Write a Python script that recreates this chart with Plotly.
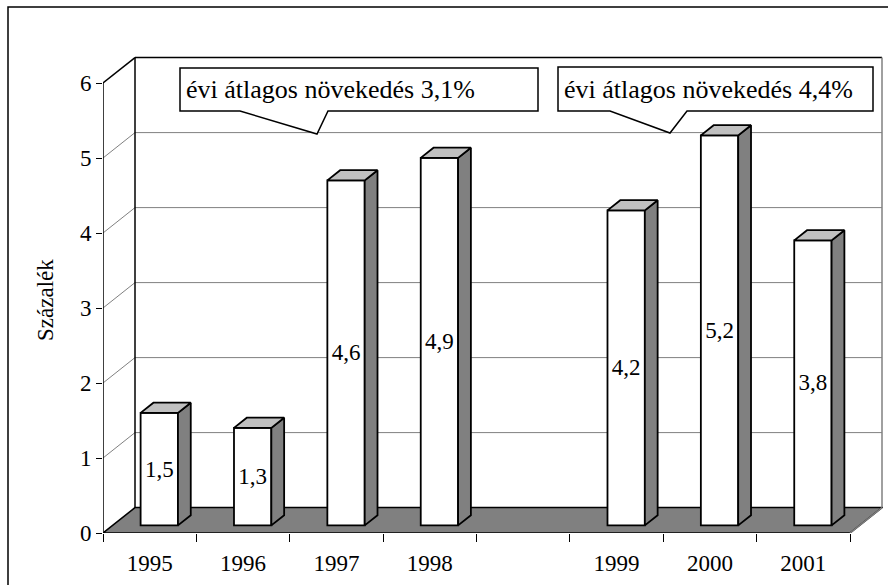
import plotly.graph_objects as go

# ---- data ----
years = ["1995", "1996", "1997", "1998", "", "1999", "2000", "2001"]
values = [1.5, 1.3, 4.6, 4.9, None, 4.2, 5.2, 3.8]
y_ticks = [0, 1, 2, 3, 4, 5, 6]
callout_texts = ["évi átlagos növekedés 3,1%", "évi átlagos növekedés 4,4%"]
y_title = "Százalék"

# ---- geometry / style ----
W, H = 888, 585
ML, MR, MT, MB = 103, 5, 55, 52
PX_PER_CAT = 93.375
PX_PER_UNIT = 75.0
XMIN = -0.5
XMAX = XMIN + (W - ML - MR) / PX_PER_CAT
YMAX = (H - MT - MB) / PX_PER_UNIT
DX = 32 / PX_PER_CAT      # oblique depth, in category units
DY = 25.4 / PX_PER_UNIT   # oblique depth, in value units
F0, F1 = 0.3, 0.7         # bar depth span
BW = 0.40
N = len(years)
XEND = XMIN + N
YTOP = y_ticks[-1]
FONT = "Liberation Serif"
FLOOR = "#808080"
SIDE = "#808080"
TOPC = "#c0c0c0"
GRID = "#808080"
LW = 1.8


def px_x(px):
    return XMIN + (px - ML) / PX_PER_CAT


def px_y(py):
    return (H - MB - py) / PX_PER_UNIT


def paper_x(px):
    return (px - ML) / (W - ML - MR)


def paper_y(py):
    return (H - MB - py) / (H - MT - MB)


fig = go.Figure()
shapes = []


def seg(x0, y0, x1, y1, color="black", width=1.5):
    shapes.append(dict(type="line", xref="x", yref="y", x0=x0, y0=y0, x1=x1, y1=y1,
                       line=dict(color=color, width=width), layer="below"))


# floor
shapes.append(dict(type="path", xref="x", yref="y", layer="below",
                   path=f"M {XMIN},0 L {XEND},0 L {XEND+DX},{DY} L {XMIN+DX},{DY} Z",
                   fillcolor=FLOOR, line=dict(color="black", width=1.5)))
seg(XEND, 0, XEND + DX, DY, color=GRID, width=1.5)

# gridlines (side wall + back wall)
for v in y_ticks[1:-1]:
    seg(XMIN, v, XMIN + DX, v + DY, color=GRID, width=1)
    seg(XMIN + DX, v + DY, XEND + DX, v + DY, color=GRID, width=1)

# walls
seg(XMIN, 0, XMIN, YTOP)
seg(XMIN, YTOP, XMIN + DX, YTOP + DY)
seg(XMIN + DX, DY, XMIN + DX, YTOP + DY)
seg(XMIN + DX, YTOP + DY, XEND + DX, YTOP + DY)
seg(XEND + DX, DY, XEND + DX, YTOP + DY, color=GRID, width=1.5)

# front faces of bars
xs = [i + F0 * DX for i in range(N)]
base = F0 * DY
labels = ["" if v is None else f"{v:.1f}".replace(".", ",") for v in values]
fig.add_trace(go.Bar(
    x=xs, y=values, base=base, width=BW,
    marker=dict(color="white", line=dict(color="black", width=LW)),
    text=labels, textposition="inside", insidetextanchor="middle", textangle=0,
    textfont=dict(family=FONT, size=23, color="black"), constraintext="none",
    hoverinfo="skip", showlegend=False))

# side and top faces
ddx = (F1 - F0) * DX
ddy = (F1 - F0) * DY
for x, v in zip(xs, values):
    if v is None:
        continue
    xl, xr = x - BW / 2, x + BW / 2
    top = base + v
    fig.add_trace(go.Scatter(
        x=[xr, xr + ddx, xr + ddx, xr, xr],
        y=[base, base + ddy, top + ddy, top, base],
        mode="lines", fill="toself", fillcolor=SIDE,
        line=dict(color="black", width=LW), hoverinfo="skip", showlegend=False))
    fig.add_trace(go.Scatter(
        x=[xl, xr, xr + ddx, xl + ddx, xl],
        y=[top, top, top + ddy, top + ddy, top],
        mode="lines", fill="toself", fillcolor=TOPC,
        line=dict(color="black", width=LW), hoverinfo="skip", showlegend=False))

# callouts (box + pointer), pixel layout converted to data coords
callouts = [
    dict(x0=180, x1=538, y0=68, y1=111, b0=240, b1=328, tx=317, ty=134),
    dict(x0=558, x1=873, y0=67, y1=111, b0=610, b1=687, tx=670, ty=133),
]
annotations = []
for c, txt in zip(callouts, callout_texts):
    pts = [(c["x0"], c["y0"]), (c["x1"], c["y0"]), (c["x1"], c["y1"]), (c["b1"], c["y1"]),
           (c["tx"], c["ty"]), (c["b0"], c["y1"]), (c["x0"], c["y1"])]
    path = "M " + " L ".join(f"{px_x(a)},{px_y(b)}" for a, b in pts) + " Z"
    shapes.append(dict(type="path", xref="x", yref="y", path=path, fillcolor="white",
                       line=dict(color="black", width=1.5), layer="above"))
    annotations.append(dict(x=px_x(c["x0"] + 4), y=px_y((c["y0"] + c["y1"]) / 2),
                            xref="x", yref="y", text=txt, showarrow=False,
                            xanchor="left", yanchor="middle",
                            font=dict(family=FONT, size=26, color="black")))

# y title
annotations.append(dict(x=paper_x(45), y=paper_y(300), xref="paper", yref="paper",
                        text=y_title, showarrow=False, textangle=-90,
                        xanchor="center", yanchor="middle",
                        font=dict(family=FONT, size=23, color="black")))

# outer frame (left and top edges visible)
shapes.append(dict(type="rect", xref="paper", yref="paper",
                   x0=paper_x(8), x1=paper_x(W + 20), y0=paper_y(H + 20), y1=paper_y(7),
                   line=dict(color="black", width=1.5), fillcolor="rgba(0,0,0,0)",
                   layer="below"))

fig.update_layout(
    width=W, height=H, margin=dict(l=ML, r=MR, t=MT, b=MB),
    paper_bgcolor="white", plot_bgcolor="white",
    shapes=shapes, annotations=annotations, showlegend=False,
    font=dict(family=FONT, size=23, color="black"),
    xaxis=dict(range=[XMIN, XMAX], tickmode="array", tickvals=list(range(N)),
               ticktext=years, ticks="", showgrid=False, zeroline=False, showline=False,
               ticklabelstandoff=14,
               minor=dict(tickmode="array", tickvals=[XMIN + k for k in range(N + 1)],
                          ticks="outside", ticklen=8, tickcolor="black", tickwidth=1,
                          showgrid=False),
               tickfont=dict(family=FONT, size=23, color="black"), fixedrange=True),
    yaxis=dict(range=[0, YMAX], tickmode="array", tickvals=y_ticks,
               ticks="outside", ticklen=6, tickcolor="black", tickwidth=1,
               showgrid=False, zeroline=False, showline=False,
               tickfont=dict(family=FONT, size=23, color="black"), fixedrange=True),
    bargap=0,
)

fig.write_html("out.html", config={"displayModeBar": False, "staticPlot": True},
               post_script="document.body.style.margin='0px';document.body.style.padding='0px';")
